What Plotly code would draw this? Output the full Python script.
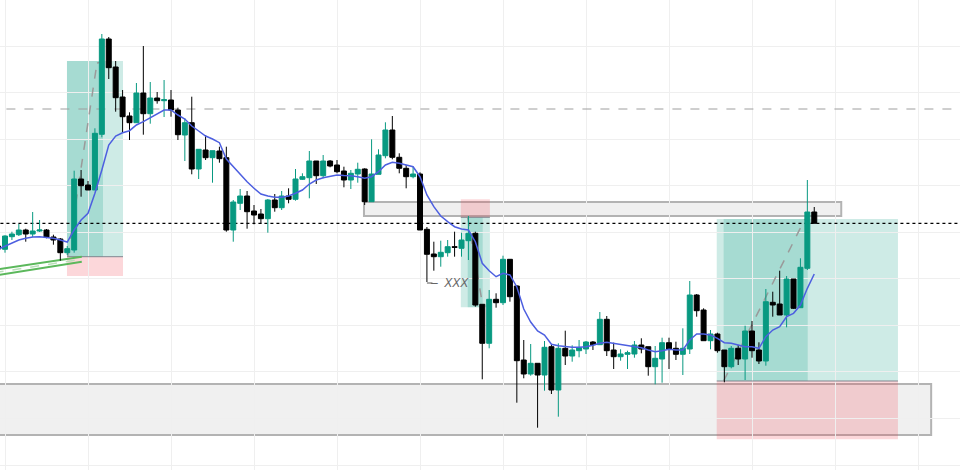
import plotly.graph_objects as go

# ---------------- data (price units, arbitrary scale) ----------------
bars = list(range(-1, 118))
open_ = [354, 350.7, 363.3, 365.3, 370, 366, 369, 370, 363, 361, 347.3, 350, 421, 415, 410, 465.7, 561, 533, 503, 484,
         477.3, 507, 486.3, 502, 499.3, 500, 490, 465, 477.3, 431, 450, 442.3, 449, 442.3, 370, 396.7, 404, 389, 386, 381.3,
         400, 392.3, 404, 400.7, 420.7, 422.3, 439, 424.3, 439, 435, 429, 420, 426, 431, 398.3, 425.7, 444.3, 470, 442.7, 431.7,
         423.3, 426, 370.7, 346, 343.3, 347.3, 353.3, 351.7, 359.3, 366.7, 295.7, 256.7, 300.7, 297.3, 340.7, 314, 240, 226, 236.7, 225,
         253.3, 210, 251.7, 244, 249.3, 251, 258, 255.3, 280.7, 250, 243.3, 245.7, 246, 255, 253.3, 233.3, 241, 257.3, 251.7, 245.7,
         251, 305, 290, 259.3, 266, 250, 233.3, 251.7, 241, 269, 250, 239, 297.7, 296, 285, 321, 292.3, 331.7, 388]
high = [355, 364.7, 368.3, 376, 371.3, 388, 380, 371, 365.3, 362, 354, 429.3, 430, 419, 471.7, 566, 563, 539, 510, 487.7,
        517, 554, 518, 508, 520, 510, 492.3, 481.7, 503.3, 451, 465, 449.3, 453.3, 453.3, 400, 411, 409, 395, 391, 401,
        406, 409, 411.7, 431, 426.7, 449, 439, 445, 440, 440, 433.3, 430, 437.3, 431.7, 460.7, 450.7, 477.7, 484, 446.7, 435,
        433.3, 427.7, 373, 358.3, 359.3, 360, 368.3, 367.3, 384, 368.3, 295.7, 310, 306.7, 344.3, 341, 315, 260, 256, 236.7, 259,
        255, 256.7, 269.3, 254.7, 260, 259, 259, 288, 284, 257.3, 250.7, 249.3, 259, 261.7, 253.3, 254, 262.3, 262.3, 258.3, 271.7,
        319, 306, 291.7, 270, 267.3, 250, 254, 255, 274.3, 279, 257.7, 311, 308.3, 329.3, 324, 321, 341.7, 420, 393]
low = [350, 347.3, 360, 364, 358.3, 362.7, 368, 361.7, 355.3, 339.3, 345, 347.3, 403.3, 410, 410, 462.7, 521, 488.3, 467.7, 460,
       477.3, 465.3, 476.3, 496.3, 483, 483.3, 460, 439, 425.7, 421, 440, 417.3, 437.3, 368.3, 358.3, 390, 371.3, 375.7, 376, 367.3,
       388.3, 390, 396.7, 399.3, 420, 401.7, 416, 421.7, 432.7, 426.7, 412.7, 411, 417.3, 395, 398.3, 425.7, 441.7, 440.7, 426.7, 411.7,
       421.7, 370, 318, 329.3, 333.3, 343.3, 343.3, 343.3, 340, 293.3, 220.7, 251.7, 292.3, 295, 298.3, 197.3, 221.7, 224.3, 172.3, 209.3,
       206, 183.3, 235, 238.3, 242.7, 246, 250, 255.3, 244, 231, 239.3, 231, 242.3, 246.7, 224.3, 215.7, 217.3, 231, 240, 225,
       246, 283.3, 259.3, 250.7, 247.3, 217.7, 231.7, 235, 220, 242.3, 236, 234.3, 283.3, 285, 272.7, 291, 292.3, 330, 376.7]
close = [351, 364, 366, 370, 366, 369, 370, 362.7, 360, 347.3, 351.3, 421, 414.3, 410, 466.7, 561, 532.3, 502.3, 483.3, 477.3,
         507, 486.3, 502, 499.3, 500.3, 490, 465.3, 477.3, 431, 450.7, 442.3, 449.3, 441.3, 370, 398, 404, 388.3, 385, 381.3, 400,
         392.3, 404, 400.7, 421, 423.3, 439, 424.3, 439, 434, 428.3, 420, 426.7, 430.7, 398.3, 426, 445, 470, 442.7, 431.7, 423.3,
         426, 370, 345.7, 343.3, 347.7, 353.3, 352.7, 360, 366.7, 295, 256.7, 300.7, 297.3, 340.7, 303.3, 239.3, 226, 236.7, 225, 252.7,
         210, 251.7, 244, 250, 252.3, 258, 255.3, 280.7, 249.3, 243.3, 246, 247.3, 255, 251, 233.3, 241.7, 257.3, 251, 245.7, 251.7,
         305, 289.3, 259.3, 266, 249.3, 233.3, 251.7, 241, 269, 249.3, 239, 298.3, 295, 285, 321, 291.7, 332.7, 388, 376.7]
ma = [350.7, 354, 356.7, 360, 361.7, 363, 363.3, 362.7, 361.7, 360, 358, 370, 380, 386.7, 406.7, 430, 455, 464, 467.3, 469.3,
      475, 478.3, 482.3, 486.7, 490, 490, 485, 481, 474, 469, 464, 461, 457.3, 441, 433.3, 426.7, 418.3, 411.7, 406, 404,
      402.7, 402.7, 404, 406.7, 410, 416, 420, 422.3, 424, 425, 424.5, 424.3, 423.3, 421.7, 423.3, 428.3, 435, 437.7, 436.7, 435,
      433.3, 423.3, 405, 393.3, 384, 378.3, 373.3, 371, 370, 358.3, 336.7, 329.3, 323.3, 326.7, 325, 313, 291, 278, 269, 265,
      255.7, 254.3, 253.3, 252.7, 252.7, 253.3, 254.7, 256.7, 257.7, 256.7, 255, 254, 253.3, 252.3, 250, 248.3, 249.3, 250.7, 250, 250,
      260, 266, 266, 265, 261.7, 257.3, 256.7, 255, 253.3, 253.3, 251.7, 263.3, 270, 273.3, 283.3, 286.7, 295, 311.7, 326]

# drawing objects (x in bar index, y in price units)
resistance_level = 491
long1 = dict(x0=8.96, x_hit=14.17, x1=17.06, entry=343.3, target=539, stop=324)
short1 = dict(x0=65.9, xa=66.9, x_hit=69.06, x1=70.1, entry=382.7, target=292.7, stop=400.7)
long2 = dict(x0=102.9, xa=103.9, x_hit=116.05, x1=129.1, entry=219, target=381, stop=160.7)
zone_upper = dict(x0=51.9, x1=120.9, y0=384, y1=398)
zone_lower = dict(x0=-3, x1=133.9, y0=165, y1=216)
channel_upper = [(-1.5, 330.2), (11.1, 343.3)]
channel_lower = [(-1.5, 324.5), (11.1, 338.3)]
label_level = 317

GREEN = "#089981"
PROFIT = "rgba(8,153,129,0.2)"
LOSS = "rgba(242,54,69,0.2)"

fig = go.Figure()

shapes = []

def rect(x0, x1, y0, y1, fill, line=None, layer="below"):
    d = dict(type="rect", xref="x", yref="y", x0=x0, x1=x1, y0=y0, y1=y1,
             fillcolor=fill, layer=layer, line=dict(width=0))
    if line:
        d["line"] = line
    shapes.append(d)

def seg(x0, y0, x1, y1, color, width=1, dash="solid", layer="between"):
    shapes.append(dict(type="line", xref="x", yref="y", x0=x0, y0=y0, x1=x1, y1=y1,
                       line=dict(color=color, width=width, dash=dash), layer=layer))

# gray zones
rect(zone_lower["x0"], zone_lower["x1"], zone_lower["y0"], zone_lower["y1"], "#f0f0f0",
     line=dict(color="#b3b3b3", width=2))
rect(zone_upper["x0"], zone_upper["x1"], zone_upper["y0"], zone_upper["y1"], "#f0f0f0",
     line=dict(color="#b3b3b3", width=2))

# long position (left)
rect(long1["x0"], long1["x1"], long1["entry"], long1["target"], PROFIT)
rect(long1["x0"], long1["x_hit"], long1["entry"], long1["target"], PROFIT)
rect(long1["x0"], long1["x1"], long1["stop"], long1["entry"], LOSS)
seg(long1["x0"], long1["entry"], long1["x1"], long1["entry"], "rgba(120,123,134,0.9)", 1)
seg(long1["x0"] + 0.1, long1["entry"], 13.3, long1["target"] - 2, "#9a9a9a", 1.5, "dash")
seg(13.3, long1["target"] - 2, long1["x_hit"], long1["target"] - 1, "#9a9a9a", 1.5, "dash")

# short position (middle)
rect(short1["x0"], short1["x1"], short1["target"], short1["entry"], PROFIT)
rect(short1["xa"], short1["x_hit"], short1["target"], short1["entry"], PROFIT)
rect(short1["x0"], short1["x1"], short1["entry"], short1["stop"], LOSS)
seg(short1["x0"], short1["entry"], short1["x1"], short1["entry"], "rgba(120,123,134,0.9)", 1)
seg(short1["xa"], short1["entry"], short1["x_hit"], short1["target"] + 2, "#9a9a9a", 1.5, "dash")

# long position (right)
rect(long2["x0"], long2["x1"], long2["entry"], long2["target"], PROFIT)
rect(long2["xa"], long2["x_hit"], long2["entry"], long2["target"], PROFIT)
rect(long2["x0"], long2["x1"], long2["stop"], long2["entry"], LOSS)
seg(long2["x0"], long2["entry"], long2["x1"], long2["entry"], "rgba(120,123,134,0.9)", 1)
seg(long2["xa"], long2["entry"], long2["x_hit"] - 0.4, long2["target"], "#9a9a9a", 1.5, "dash")

# horizontal levels
seg(-5, resistance_level, 145, resistance_level, "#9e9e9e", 1, "dash")
seg(-5, close[-1], 145, close[-1], "#000000", 1.2, "dot")

# green channel
for (a, b) in (channel_upper, channel_lower):
    seg(a[0], a[1], b[0], b[1], "#5cb85c", 2)
mid_a = ((channel_upper[0][0]), (channel_upper[0][1] + channel_lower[0][1]) / 2)
mid_b = ((channel_upper[1][0]), (channel_upper[1][1] + channel_lower[1][1]) / 2)
seg(mid_a[0], mid_a[1], mid_b[0], mid_b[1], "#b9dfb9", 1.5, "dash")

# XXX label tick
seg(61, label_level, 61.8, label_level, "#555555", 1)

fig.add_trace(go.Candlestick(
    x=bars, open=open_, high=high, low=low, close=close,
    increasing=dict(line=dict(color=GREEN, width=1), fillcolor=GREEN),
    decreasing=dict(line=dict(color="#000000", width=1), fillcolor="#000000"),
    whiskerwidth=0, showlegend=False, hoverinfo="skip"))

fig.add_trace(go.Scatter(x=bars, y=ma, mode="lines",
                         line=dict(color="#4d5fe0", width=1.5), showlegend=False, hoverinfo="skip"))

fig.add_annotation(x=64.2, y=label_level, xref="x", yref="y", text="<i>–  XXX</i>",
                   showarrow=False, font=dict(family="Liberation Sans, Arial", size=12, color="#666666"))

fig.update_layout(
    width=960, height=470, margin=dict(l=0, r=0, t=0, b=0),
    paper_bgcolor="white", plot_bgcolor="white",
    shapes=shapes, boxgap=0.28, boxgroupgap=0,
    xaxis=dict(range=[-0.723, 138.07], showticklabels=False, showgrid=True, gridcolor="#efefef",
               tick0=0, dtick=12, zeroline=False, showline=False, rangeslider=dict(visible=False), fixedrange=True),
    yaxis=dict(range=[130, 600], showticklabels=False, showgrid=True, gridcolor="#efefef",
               tick0=135, dtick=46.55, zeroline=False, showline=False, fixedrange=True),
)

fig.write_html("out.html")
